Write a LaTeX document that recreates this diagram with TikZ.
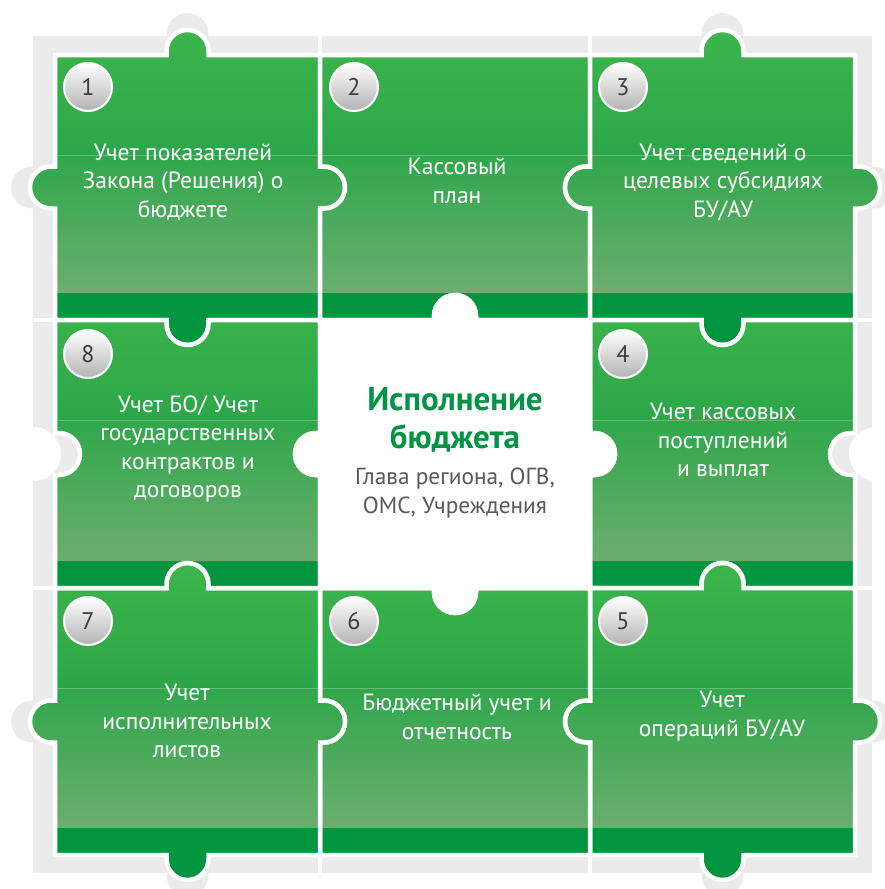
\documentclass[tikz,border=0pt]{standalone}
\usepackage{fontspec}
\setmainfont{PT Sans}
\definecolor{pztop}{HTML}{3DB64B}
\definecolor{pzmid}{HTML}{2DA64A}
\definecolor{pzmidlow}{HTML}{30A74B}
\definecolor{pzlow}{HTML}{6BAE6F}
\definecolor{pzdark}{HTML}{00953F}
\definecolor{framegrey}{HTML}{EBEBEB}
\definecolor{titlegreen}{HTML}{009444}
\definecolor{subgrey}{HTML}{58595B}
\definecolor{numgrey}{HTML}{3C3C3C}

% tab radius, neck, bezier handle
\newcommand\pzr{21}
\newcommand\pzn{4}
\newcommand\pzk{11.6}

\tikzset{
  htab/.style n args={4}{insert path={-- ({#1-(#4)*\pzr},{#2}) -- ({#1-(#4)*\pzr},{#2+(#3)*\pzn})
    .. controls ({#1-(#4)*\pzr},{#2+(#3)*(\pzn+\pzk)}) and ({#1-(#4)*\pzk},{#2+(#3)*(\pzn+\pzr)}) .. ({#1},{#2+(#3)*(\pzn+\pzr)})
    .. controls ({#1+(#4)*\pzk},{#2+(#3)*(\pzn+\pzr)}) and ({#1+(#4)*\pzr},{#2+(#3)*(\pzn+\pzk)}) .. ({#1+(#4)*\pzr},{#2+(#3)*\pzn})
    -- ({#1+(#4)*\pzr},{#2})}},
  vtab/.style n args={4}{insert path={-- ({#2},{#1-(#4)*\pzr}) -- ({#2+(#3)*\pzn},{#1-(#4)*\pzr})
    .. controls ({#2+(#3)*(\pzn+\pzk)},{#1-(#4)*\pzr}) and ({#2+(#3)*(\pzn+\pzr)},{#1-(#4)*\pzk}) .. ({#2+(#3)*(\pzn+\pzr)},{#1})
    .. controls ({#2+(#3)*(\pzn+\pzr)},{#1+(#4)*\pzk}) and ({#2+(#3)*(\pzn+\pzk)},{#1+(#4)*\pzr}) .. ({#2+(#3)*\pzn},{#1+(#4)*\pzr})
    -- ({#2},{#1+(#4)*\pzr})}},
  % x1 y1 x2 y2, then top right bottom left: 1 tab, -1 notch, 0 flat
  piece/.style n args={8}{insert path={(#1,#2) [htab={(#1+#3)/2}{#2}{-(#5)}{1}] -- (#3,#2)
    [vtab={(#2+#4)/2}{#3}{#6}{1}] -- (#3,#4)
    [htab={(#1+#3)/2}{#4}{#7}{-1}] -- (#1,#4)
    [vtab={(#2+#4)/2}{#1}{-(#8)}{-1}] -- cycle}},
  pzedge/.style = {draw=white, line width=4.5},
  pztxt/.style = {text=white, align=center, font=\fontsize{23.5}{28.5}\selectfont},
  numtxt/.style = {text=numgrey, font=\fontsize{24}{24}\selectfont},
}

\newcommand\greenpiece[8]{%
  \begin{scope}
    \clip[piece={#1}{#2}{#3}{#4}{#5}{#6}{#7}{#8}];
    \shade[top color=pztop, bottom color=pzmid] ({#1-30},{#2-30}) rectangle ({#3+30},{#2+100});
    \shade[top color=pzmidlow, bottom color=pzlow] ({#1-30},{#2+100}) rectangle ({#3+30},{#4-27});
    \fill[pzdark] ({#1-30},{#4-27}) rectangle ({#3+30},{#4+30});
    \draw[white, opacity=.25, line width=.8] ({#1-30},{#2+100}) -- ({#3+30},{#2+100});
  \end{scope}
  \draw[pzedge, piece={#1}{#2}{#3}{#4}{#5}{#6}{#7}{#8}];
}

\newcommand\numball[3]{%
  \shade[top color=white, middle color=black!4, bottom color=black!30] (#1,#2) circle (24);
  \draw[white, line width=2] (#1,#2) circle (24);
  \node[numtxt] (n#3) at (#1,#2) {#3};
}

\begin{document}
\begin{tikzpicture}[x=1pt, y=-1pt]
\useasboundingbox (0,0) rectangle (884,889);
% grey backing
\fill[framegrey] (33,36) rectangle (872,873);
\foreach \gx/\gy in {187.5/34, 722.5/34, 187.5/875, 722.5/875, 32/187.5, 32/721.5, 874/187.5, 874/721.5}
  \fill[framegrey] (\gx,\gy) circle (21);
\fill[white] (876,454) circle (27);
\fill[white] (34,454) circle (27);
\foreach \gl in {320, 590}
  \draw[white, line width=4] (\gl,0) -- (\gl,889);
\foreach \gl in {320, 588}
  \draw[white, line width=4] (0,\gl) -- (884,\gl);

% pieces
\greenpiece{55}{55}{320}{320}{1}{1}{1}{1}
\greenpiece{320}{55}{590}{320}{0}{-1}{-1}{-1}
\greenpiece{590}{55}{855}{320}{1}{1}{1}{1}
\greenpiece{590}{320}{855}{588}{-1}{-1}{-1}{-1}
\greenpiece{590}{588}{855}{855}{1}{1}{1}{1}
\greenpiece{320}{588}{590}{855}{-1}{-1}{0}{-1}
\greenpiece{55}{588}{320}{855}{1}{1}{1}{1}
\greenpiece{55}{320}{320}{588}{-1}{-1}{-1}{-1}
\fill[white, piece={320}{320}{590}{588}{1}{1}{1}{1}];
\draw[pzedge, piece={320}{320}{590}{588}{1}{1}{1}{1}];

% numbers
\numball{88}{87}{1}
\numball{354}{87}{2}
\numball{623}{87}{3}
\numball{623}{354}{4}
\numball{623}{621}{5}
\numball{354}{621}{6}
\numball{88}{621}{7}
\numball{88}{354}{8}

% labels
\node[pztxt] (t1) at (183,182) {Учет показателей\\Закона (Решения) о\\бюджете};
\node[pztxt] (t2) at (457,181) {Кассовый\\план};
\node[pztxt] (t3) at (723,182) {Учет сведений о\\целевых субсидиях\\БУ/АУ};
\node[pztxt] (t4) at (723,440) {Учет кассовых\\поступлений\\и выплат};
\node[pztxt] (t5) at (722,716) {Учет\\операций БУ/АУ};
\node[pztxt] (t6) at (457,717) {Бюджетный учет и\\отчетность};
\node[pztxt] (t7) at (187,721) {Учет\\исполнительных\\листов};
\node[pztxt] (t8) at (188,449) {Учет БО/ Учет\\государственных\\контрактов и\\договоров};
\node[text=titlegreen, align=center, font=\bfseries\fontsize{33}{38}\selectfont] (title) at (455,420) {Исполнение\\бюджета};
\node[text=subgrey, align=center, font=\fontsize{23.3}{29}\selectfont] (sub) at (455,493) {Глава региона, ОГВ,\\ОМС, Учреждения};
\end{tikzpicture}
\end{document}
